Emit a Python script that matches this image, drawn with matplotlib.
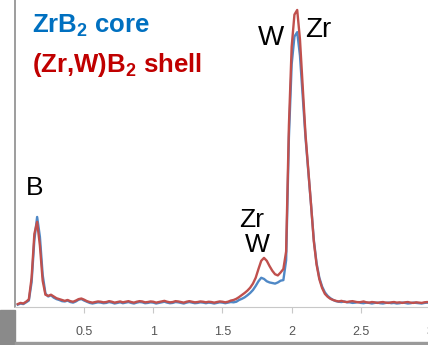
import numpy as np
import matplotlib
matplotlib.use('Agg')
import matplotlib.pyplot as plt
from matplotlib.patches import Rectangle

plt.rcParams['font.family'] = ['Liberation Sans', 'DejaVu Sans']
plt.rcParams['mathtext.fontset'] = 'custom'
plt.rcParams['mathtext.rm'] = 'Liberation Sans'
plt.rcParams['mathtext.bf'] = 'Liberation Sans:bold'

# energy channels (keV)
energy = np.round(np.arange(0.02, 3.001, 0.02), 2)

# ZrB2 core spectrum (counts, arbitrary)
core = [8, 12, 10, 16, 22, 85, 230, 308, 240, 110,
        46, 36, 40, 32, 27, 24, 20, 19, 22, 17,
        15, 19, 25, 27, 22, 18, 14, 12, 14, 16,
        15, 13, 14, 17, 15, 12, 14, 16, 13, 15,
        17, 14, 12, 15, 17, 16, 13, 14, 16, 15,
        12, 14, 16, 18, 15, 13, 14, 17, 16, 14,
        12, 15, 17, 15, 13, 14, 16, 15, 13, 15,
        14, 12, 14, 16, 15, 13, 15, 17, 16, 18,
        24, 28, 33, 40, 48, 58, 72, 88, 100, 96,
        88, 84, 82, 80, 84, 90, 92, 160, 580, 830,
        925, 940, 860, 720, 580, 465, 350, 230, 150, 100,
        70, 50, 38, 30, 24, 20, 18, 17, 19, 16,
        16, 14, 15, 17, 14, 13, 15, 14, 12, 14,
        15, 13, 12, 14, 15, 13, 14, 12, 13, 15,
        14, 12, 13, 15, 14, 13, 12, 14, 15, 14]

# (Zr,W)B2 shell spectrum (counts, arbitrary)
shell = [10, 14, 12, 18, 26, 100, 250, 291, 210, 90,
         42, 38, 42, 36, 30, 27, 24, 21, 24, 20,
         18, 22, 27, 29, 25, 20, 17, 15, 17, 19,
         18, 16, 17, 20, 18, 15, 17, 19, 16, 18,
         20, 17, 15, 18, 20, 19, 16, 17, 19, 18,
         15, 17, 19, 21, 18, 16, 17, 20, 19, 17,
         15, 18, 20, 18, 16, 17, 19, 18, 16, 18,
         17, 15, 17, 19, 18, 16, 18, 22, 24, 28,
         34, 41, 48, 56, 66, 80, 100, 130, 158, 168,
         158, 140, 124, 112, 108, 118, 130, 190, 620, 890,
         1000, 1016, 915, 750, 590, 470, 350, 225, 145, 95,
         65, 45, 35, 28, 24, 21, 19, 21, 18, 17,
         19, 20, 18, 16, 17, 19, 16, 15, 17, 16,
         14, 16, 17, 15, 14, 16, 17, 15, 16, 14,
         16, 17, 15, 14, 16, 15, 14, 16, 17, 15]

fig = plt.figure(figsize=(4.28, 3.45), dpi=100)
ax = fig.add_axes([15/428, 38/345, 415/428, 307/345])

ax.plot(energy, core, color='#4f88c6', lw=1.7)
ax.plot(energy, shell, color='#c0504d', lw=1.7)

ax.set_xlim(0, 2.99)
ax.set_ylim(0, 1050)

for s in ['top', 'right']:
    ax.spines[s].set_visible(False)
ax.spines['left'].set_color('#8c8c8c')
ax.spines['bottom'].set_color('#c8c8c8')
ax.spines['left'].set_linewidth(1.2)
ax.set_yticks([])
ax.set_xticks([0.5, 1, 1.5, 2, 2.5, 3])
ax.set_xticklabels(['0.5', '1', '1.5', '2', '2.5', '3'])
ax.tick_params(axis='x', length=4, color='#c8c8c8', labelsize=9,
               labelcolor='#555555', pad=10)

ax.text(17/415, 1 - 33/307, r'ZrB$\mathbf{_2}$ core', transform=ax.transAxes,
        color='#0070c0', fontsize=18.5, fontweight='bold', va='baseline')
ax.text(17/415, 1 - 72/307, r'(Zr,W)B$\mathbf{_2}$ shell', transform=ax.transAxes,
        color='#c00000', fontsize=18.5, fontweight='bold', va='baseline')

ax.text(0.145, 383, 'B', fontsize=19, ha='center')
ax.text(1.71, 274, 'Zr', fontsize=19, ha='center')
ax.text(1.75, 188, 'W', fontsize=19, ha='center')
ax.text(1.85, 896, 'W', fontsize=20, ha='center')
ax.text(2.19, 925, 'Zr', fontsize=20, ha='center')

# scan artefacts along the lower edge
fig.patches.append(Rectangle((0, 0), 15/428, 35/345, transform=fig.transFigure,
                             color='#8a8a8a', zorder=5))
fig.patches.append(Rectangle((15/428, 0), 1, 3/345, transform=fig.transFigure,
                             color='#9a9a9a', zorder=5))

fig.savefig('out.png', dpi=100)
